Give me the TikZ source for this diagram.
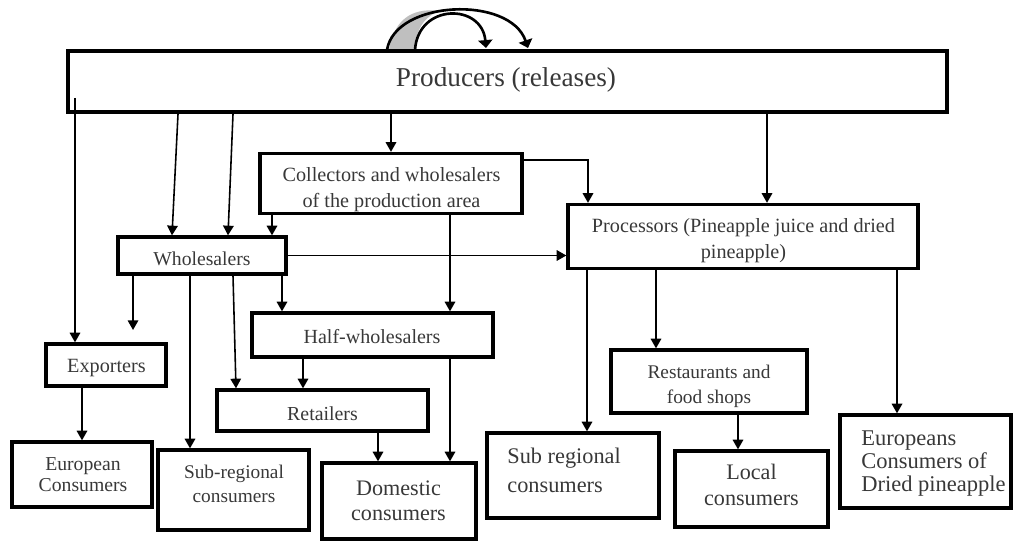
\documentclass[tikz,border=0pt]{standalone}
\usepackage{fontspec}
\setmainfont{Liberation Serif}
\usetikzlibrary{arrows.meta}
\begin{document}
\begin{tikzpicture}[x=0.2mm,y=-0.2mm,
  box/.style={draw=black, line width=1.9pt, inner sep=0pt},
  sz/.style 2 args={minimum width=#1*0.2mm, minimum height=#2*0.2mm},
  fs/.style 2 args={font=\fontsize{#1}{#2}\selectfont},
  txt/.style={inner sep=0pt, align=center, text=black!78},
  ltxt/.style={inner sep=0pt, align=left, anchor=west, text=black!78},
  arr/.style={line width=0.9pt, -{Triangle[width=6pt,length=5.5pt]}},
  carr/.style={line width=1.5pt, -{Triangle[width=8pt,length=4.5pt]}},
]
\useasboundingbox (0,0) rectangle (1016,541);

% recycling arrows on top of the producers box
\fill[black!25] (389,50) .. controls (395,14) and (418,8) .. (440,11)
  .. controls (424,16) and (416,30) .. (414,50) -- cycle;
\draw[carr] (387,50) .. controls (395,0) and (510,-5) .. (528,48);
\draw[carr] (415,50) .. controls (418,3) and (482,3) .. (486,48);

% boxes
\node[box, line width=2.5pt, sz={879}{61}] (producers) at (507.5,81.5) {};
\node[box, sz={262}{60}] (collectors) at (391,183.5) {};
\node[box, sz={168}{37}] (wholesalers) at (202,255.5) {};
\node[box, sz={350}{64}] (processors) at (743,236.5) {};
\node[box, sz={241}{44}] (half) at (372.5,335) {};
\node[box, sz={120}{42}] (exporters) at (106,365) {};
\node[box, sz={211}{41}] (retailers) at (322.5,410.5) {};
\node[box, sz={140}{65}] (european) at (82,474.5) {};
\node[box, sz={151}{80}] (subregL) at (233.5,490) {};
\node[box, sz={154}{76}] (domestic) at (399,501) {};
\node[box, sz={172}{85}] (subregR) at (573,475.5) {};
\node[box, sz={196}{63}] (restaurants) at (709,381.5) {};
\node[box, sz={153}{76}] (local) at (751.5,489) {};
\node[box, sz={171}{93}] (europeans) at (925.5,461.5) {};

% texts
\node[txt, fs={15.5}{18}] (producerst) at (506,80) {Producers (releases)};
\node[txt, fs={11.5}{14.7}] (collectorst) at (391.5,190) {Collectors and wholesalers\\of the production area};
\node[txt, fs={11.2}{13}] (wholesalerst) at (202,258.5) {Wholesalers};
\node[txt, fs={11.5}{14.7}] (processorst) at (743.5,241) {Processors (Pineapple juice and dried\\pineapple)};
\node[txt, fs={11.4}{13}] (halft) at (372,337) {Half-wholesalers};
\node[txt, fs={11.5}{13}] (exporterst) at (106.5,368.5) {Exporters};
\node[txt, fs={11.3}{13}] (retailerst) at (322.5,414) {Retailers};
\node[txt, fs={11.2}{11.9}] (europeant) at (83,475) {European\\Consumers};
\node[txt, fs={11}{13.6}] (subregLt) at (234,483.5) {Sub-regional\\consumers};
\node[txt, fs={12.6}{14.2}] (domestict) at (398.5,501) {Domestic\\consumers};
\node[ltxt, fs={12.7}{16.4}] (subregRt) at (507,470) {Sub regional\\consumers};
\node[txt, fs={11}{14.2}] (restaurantst) at (709,386) {Restaurants and\\food shops};
\node[txt, fs={12.6}{14.7}] (localt) at (751.5,485) {Local\\consumers};
\node[ltxt, fs={12.8}{13}] (europeanst) at (861,463.5) {Europeans\\Consumers of\\Dried pineapple};

% connectors
\coordinate (pA) at (75,98);
\coordinate (wStub) at (133,330);
\draw[arr] (pA) -- (75,0 |- exporters.north);
\draw[arr] (178,0 |- producers.south) -- (172,0 |- wholesalers.north);
\draw[arr] (233,0 |- producers.south) -- (228,0 |- wholesalers.north);
\draw[arr] (272,0 |- collectors.south) -- (272,0 |- wholesalers.north);
\draw[arr] (391,0 |- producers.south) -- (391,0 |- collectors.north);
\draw[arr] (collectors.east |- 0,160) -| (588,0 |- processors.north);
\draw[arr] (767,0 |- producers.south) -- (767,0 |- processors.north);
\draw[arr] (wholesalers.east) -- (processors.west |- wholesalers.east);
\draw[arr] (450,0 |- collectors.south) -- (450,0 |- half.north);
\draw[arr] (282,0 |- wholesalers.south) -- (282,0 |- half.north);
\draw[arr] (133,0 |- wholesalers.south) -- (wStub);
\draw[arr] (190,0 |- wholesalers.south) -- (190,0 |- subregL.north);
\draw[arr] (233,0 |- wholesalers.south) -- (236,0 |- retailers.north);
\draw[arr] (303,0 |- half.south) -- (303,0 |- retailers.north);
\draw[arr] (450,0 |- half.south) -- (450,0 |- domestic.north);
\draw[arr] (378,0 |- retailers.south) -- (378,0 |- domestic.north);
\draw[arr] (82,0 |- exporters.south) -- (82,0 |- european.north);
\draw[arr] (587,0 |- processors.south) -- (587,0 |- subregR.north);
\draw[arr] (656,0 |- processors.south) -- (656,0 |- restaurants.north);
\draw[arr] (897,0 |- processors.south) -- (897,0 |- europeans.north);
\draw[arr] (738,0 |- restaurants.south) -- (738,0 |- local.north);
\end{tikzpicture}
\end{document}
